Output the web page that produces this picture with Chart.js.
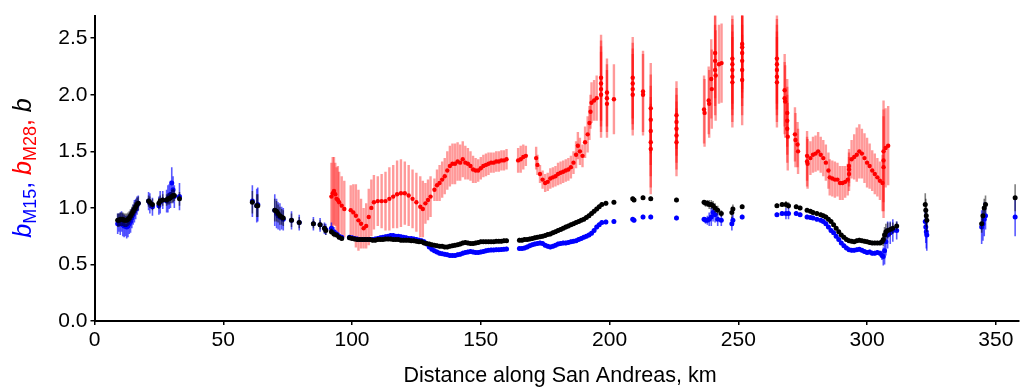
<!DOCTYPE html>
<html><head><meta charset="utf-8">
<style>html,body{margin:0;padding:0;background:#fff;}canvas{display:block;}</style>
<script src="https://cdn.jsdelivr.net/npm/chart.js@4.4.0/dist/chart.umd.min.js"></script>
</head><body>
<canvas id="c" width="1023" height="389"></canvas>
<script>
// ---------- DATA ----------
const xTicks = [0, 50, 100, 150, 200, 250, 300, 350];
const yTicks = [0, 0.5, 1.0, 1.5, 2.0, 2.5];

// positions shared by b and bM15 (km)
const kmBB = [
 9,9.5,10,10.5,11,11.5,12,12.5,13,13.5,14,14.5,15,15.5,16,16.5,17,
 21,21.5,22.5,25,25.5,26.5,28,28.5,29,29.5,30,30.5,31,33,
 61.3,63,63.4,70,70.7,71.3,72,72.7,73.3,76.5,79.5,85,87.6,89.3,89.8,
 92,93,94,95,96,
 99,100,101,102,103,104,105,106,107,108,
 109,110,111,112,113,114,115,116,117,118,
 119,120,121,122,123,124,125,126,127,128,
 129,130,131,132,133,134,135,136,137,138,
 139,140,141,142,143,144,145,146,147,148,
 149,150,151,152,153,154,155,156,157,158,
 159,160,
 165,166,167,168,169,170,171,172,173,174,
 175,176,177,178,179,180,181,182,183,184,
 185,186,187,188,189,190,191,192,193,194,
 195,196,197,198.6,201.7,209,209.5,213,216,
 226,236.7,237.3,238,238.7,239.5,240.2,241,242,243.4,247.5,247.9,251.5,
 265,267,268.5,269.5,272.5,274,276.7,278,279,280.5,282,
 283,284,285,286,287,288,289,290,291,292,
 293,294,295,296,297,298,299,300,301,302,
 303,304,305,
 305.8,306.3,306.8,307.3,308,309,310,311.5,
 322.6,322.8,323.0,323.2,344.5,345,345.5,346,357.5
];
// b (black)
const bVals = [
 0.89,0.89,0.90,0.90,0.90,0.89,0.89,0.89,0.90,0.91,0.93,0.95,0.97,0.99,1.01,1.03,1.04,
 1.06,1.05,1.03,1.04,1.06,1.07,1.07,1.08,1.08,1.09,1.10,1.11,1.11,1.08,
 1.05,1.02,1.02,0.98,0.97,0.95,0.93,0.92,0.91,0.89,0.87,0.86,0.85,0.82,0.80,
 0.79,0.77,0.76,0.74,0.73,
 0.735,0.73,0.725,0.72,0.72,0.72,0.72,0.72,0.72,0.715,
 0.715,0.72,0.72,0.72,0.725,0.725,0.725,0.72,0.72,0.72,
 0.715,0.715,0.715,0.715,0.71,0.71,0.705,0.70,0.70,0.69,
 0.685,0.68,0.675,0.67,0.665,0.66,0.66,0.655,0.655,0.66,
 0.665,0.67,0.675,0.68,0.69,0.695,0.69,0.685,0.685,0.69,
 0.695,0.70,0.70,0.70,0.70,0.70,0.70,0.705,0.705,0.705,
 0.71,0.71,
 0.715,0.715,0.72,0.72,0.725,0.73,0.735,0.74,0.745,0.75,
 0.755,0.765,0.77,0.78,0.79,0.80,0.81,0.82,0.83,0.84,
 0.85,0.86,0.87,0.88,0.89,0.90,0.915,0.93,0.95,0.97,
 0.99,1.01,1.03,1.04,1.05,1.08,1.07,1.09,1.08,
 1.07,1.05,1.04,1.04,1.03,1.03,1.02,1.00,0.98,0.95,0.96,0.99,1.01,
 1.02,1.03,1.03,1.02,1.01,1.00,0.98,0.97,0.96,0.95,0.94,
 0.93,0.92,0.90,0.88,0.85,0.82,0.79,0.76,0.74,0.72,
 0.71,0.705,0.70,0.71,0.715,0.71,0.705,0.70,0.695,0.69,
 0.69,0.69,0.69,
 0.70,0.72,0.76,0.79,0.80,0.81,0.82,0.84,
 1.03,0.98,0.93,0.89,0.86,0.93,1.00,1.03,1.09
];
const bErr = [
 0.06,0.06,0.06,0.06,0.06,0.06,0.06,0.06,0.06,0.06,0.06,0.06,0.06,0.06,0.06,0.06,0.06,
 0.05,0.05,0.05,0.05,0.05,0.05,0.05,0.05,0.05,0.05,0.06,0.06,0.05,0.06,
 0.10,0.10,0.10,0.10,0.09,0.08,0.08,0.07,0.07,0.06,0.05,0.04,0.04,0.04,0.04,
 0.03,0.03,0.02,0.02,0.02,
 0.02,0.02,0.02,0.02,0.02,0.02,0.02,0.02,0.02,0.02,
 0.02,0.02,0.02,0.02,0.02,0.02,0.02,0.02,0.02,0.02,
 0.02,0.02,0.02,0.02,0.02,0.02,0.02,0.02,0.02,0.02,
 0.02,0.02,0.02,0.02,0.02,0.02,0.02,0.02,0.02,0.02,
 0.02,0.02,0.02,0.02,0.02,0.02,0.02,0.02,0.02,0.02,
 0.02,0.02,0.02,0.02,0.02,0.02,0.02,0.02,0.02,0.02,
 0.02,0.02,
 0.02,0.02,0.02,0.02,0.02,0.02,0.02,0.02,0.02,0.02,
 0.02,0.02,0.02,0.02,0.02,0.02,0.02,0.02,0.02,0.02,
 0.02,0.02,0.02,0.02,0.02,0.02,0.02,0.02,0.02,0.02,
 0.02,0.02,0.02,0.02,0.02,0.02,0.02,0.02,0.02,
 0.02,0.02,0.03,0.03,0.04,0.04,0.04,0.04,0.04,0.03,0.05,0.04,0.02,
 0.02,0.02,0.03,0.03,0.02,0.02,0.02,0.02,0.02,0.02,0.02,
 0.02,0.02,0.02,0.02,0.02,0.02,0.02,0.02,0.02,0.02,
 0.02,0.02,0.02,0.02,0.02,0.02,0.02,0.02,0.02,0.02,
 0.02,0.02,0.02,
 0.03,0.06,0.07,0.07,0.07,0.06,0.05,0.04,
 0.10,0.10,0.10,0.10,0.08,0.08,0.08,0.08,0.12
];
// bM15 (blue)
const bM15Vals = [
 0.86,0.87,0.86,0.88,0.85,0.84,0.84,0.83,0.84,0.86,0.88,0.91,0.94,0.97,0.99,1.02,1.04,
 1.06,1.04,1.01,1.02,1.05,1.07,1.06,1.08,1.10,1.12,1.22,1.16,1.10,1.10,
 1.06,1.02,1.03,0.98,0.95,0.93,0.92,0.91,0.90,0.89,0.87,0.86,0.85,0.82,0.81,
 0.82,0.79,0.77,0.75,0.74,
 0.74,0.735,0.73,0.725,0.72,0.72,0.72,0.72,0.72,0.72,
 0.725,0.73,0.735,0.74,0.745,0.75,0.755,0.755,0.75,0.75,
 0.745,0.74,0.735,0.73,0.73,0.725,0.72,0.715,0.71,0.70,
 0.68,0.655,0.635,0.62,0.61,0.60,0.595,0.59,0.585,0.58,
 0.578,0.578,0.585,0.59,0.60,0.605,0.61,0.615,0.61,0.605,
 0.605,0.61,0.615,0.62,0.625,0.627,0.627,0.63,0.63,0.632,
 0.635,0.636,
 0.64,0.64,0.645,0.655,0.665,0.675,0.68,0.685,0.69,0.685,
 0.67,0.66,0.655,0.66,0.67,0.68,0.685,0.69,0.69,0.695,
 0.70,0.705,0.71,0.72,0.73,0.74,0.75,0.76,0.775,0.80,
 0.83,0.85,0.87,0.875,0.88,0.90,0.89,0.92,0.92,
 0.91,0.90,0.89,0.89,0.90,0.92,0.96,0.94,0.90,0.89,0.86,0.89,0.92,
 0.94,0.95,0.95,0.95,0.95,0.94,0.92,0.915,0.91,0.90,0.89,
 0.88,0.86,0.83,0.80,0.78,0.75,0.72,0.69,0.665,0.645,
 0.63,0.625,0.625,0.63,0.635,0.625,0.615,0.605,0.61,0.60,
 0.60,0.605,0.60,
 0.58,0.57,0.62,0.70,0.76,0.78,0.80,0.80,
 0.88,0.83,0.79,0.76,0.83,0.86,0.90,0.93,0.92
];
const bM15Err = [
 0.09,0.08,0.10,0.09,0.10,0.10,0.09,0.10,0.10,0.09,0.10,0.09,0.09,0.10,0.09,0.08,0.07,
 0.08,0.09,0.08,0.08,0.10,0.08,0.10,0.12,0.11,0.12,0.14,0.12,0.10,0.12,
 0.14,0.15,0.15,0.14,0.13,0.12,0.12,0.10,0.10,0.08,0.07,0.06,0.06,0.05,0.05,
 0.05,0.04,0.03,0.03,0.02,
 0.02,0.02,0.02,0.02,0.02,0.02,0.02,0.02,0.02,0.02,
 0.02,0.02,0.02,0.02,0.02,0.02,0.02,0.02,0.02,0.02,
 0.02,0.02,0.02,0.02,0.02,0.02,0.02,0.02,0.02,0.02,
 0.02,0.02,0.02,0.02,0.02,0.02,0.02,0.02,0.02,0.02,
 0.02,0.02,0.02,0.02,0.02,0.02,0.02,0.02,0.02,0.02,
 0.02,0.02,0.02,0.02,0.02,0.02,0.02,0.02,0.02,0.02,
 0.02,0.02,
 0.02,0.02,0.02,0.02,0.02,0.02,0.02,0.02,0.02,0.02,
 0.02,0.02,0.02,0.02,0.02,0.02,0.02,0.02,0.02,0.02,
 0.02,0.02,0.02,0.02,0.02,0.02,0.02,0.02,0.02,0.02,
 0.02,0.02,0.02,0.02,0.02,0.02,0.02,0.02,0.02,
 0.02,0.02,0.03,0.04,0.06,0.08,0.08,0.07,0.06,0.05,0.06,0.05,0.02,
 0.02,0.02,0.05,0.05,0.02,0.02,0.02,0.02,0.02,0.02,0.02,
 0.02,0.02,0.02,0.02,0.02,0.02,0.02,0.02,0.02,0.02,
 0.02,0.02,0.02,0.02,0.02,0.02,0.02,0.02,0.02,0.02,
 0.02,0.02,0.02,
 0.04,0.08,0.12,0.12,0.12,0.10,0.10,0.08,
 0.12,0.14,0.15,0.14,0.15,0.15,0.15,0.12,0.17
];
// bM28 (red)
const kmR = [
 92.0,92.5,93.0,93.5,94.0,94.5,95.0,96.0,97.0,99.5,
 100.5,101.5,102.5,103.5,104.5,105.5,106.5,107.5,108.5,110.0,
 111.5,113.0,114.5,116.0,117.5,119.0,120.5,122.0,123.5,125.0,
 126.5,127.5,128.5,129.5,130.5,132,133,134,135,136,
 137,138,139,140,141,142,143,144,145,146,
 147,148,149,150,151,152,153,154,155,156,
 157,158,159,160,164.5,165.5,166.5,167.5,171.5,172,
 173,174,175,176,177,178,179,180,181,182,
 183,184,185,186,187,187.7,188.5,189.5,190.5,191.5,
 192.2,192.6,193,194,195,196.7,196.7,196.7,196.7,199,
 199,199,201.7,209,209,209,209,213,213,216,
 216,216,216,216,226,226,226,226,226,236.7,
 236.9,238.5,238.7,239.5,239.7,241,241,241,241.2,242.5,
 243.5,247.7,247.7,247.7,247.7,247.7,251.5,251.5,251.5,251.5,
 251.5,251.5,265,265,265,265,265,268,268,268.2,
 269,269,269,269.2,272,272.2,273,273.2,276.7,276.7,
 276.9,278,279,280,281,282,283,284,285,285.5,
 286.5,287.5,288.5,289.5,290.5,291.5,292.5,293,293,293,
 294,295,296,297,298,299,300,301,302,303,
 304,305,306,306.4,306.4,306.4,307.2,308.2
];
const bM28Vals = [
 1.10,1.13,1.15,1.12,1.08,1.07,1.05,1.02,0.99,0.98,
 0.96,0.93,0.89,0.86,0.82,0.84,0.92,1.00,1.05,1.06,
 1.06,1.06,1.08,1.10,1.12,1.13,1.13,1.11,1.08,1.05,
 1.01,0.99,1.04,1.07,1.10,1.16,1.20,1.22,1.25,1.28,
 1.33,1.37,1.39,1.39,1.41,1.40,1.43,1.40,1.39,1.37,
 1.34,1.33,1.33,1.35,1.37,1.38,1.39,1.40,1.40,1.41,
 1.41,1.42,1.42,1.43,1.42,1.43,1.45,1.46,1.44,1.38,
 1.30,1.25,1.22,1.23,1.26,1.27,1.28,1.30,1.31,1.32,
 1.33,1.34,1.36,1.40,1.47,1.55,1.50,1.46,1.58,1.65,
 1.75,1.85,1.93,1.95,1.97,2.15,2.10,2.05,2.00,2.02,
 1.97,1.92,1.96,2.15,2.10,2.05,2.00,2.03,2.00,1.88,
 1.78,1.68,1.58,1.52,1.82,1.76,1.70,1.64,1.58,1.87,
 1.84,1.95,1.92,2.14,2.05,2.37,2.30,2.22,2.17,2.27,
 2.28,2.32,2.27,2.22,2.16,2.11,2.45,2.42,2.37,2.30,
 2.22,2.13,2.32,2.27,2.22,2.16,2.11,2.04,1.97,1.94,
 1.84,1.77,1.70,1.63,1.65,1.60,1.56,1.50,1.46,1.41,
 1.39,1.44,1.47,1.48,1.50,1.47,1.44,1.40,1.33,1.27,
 1.26,1.25,1.25,1.22,1.22,1.23,1.25,1.30,1.34,1.37,
 1.43,1.45,1.47,1.50,1.48,1.44,1.40,1.37,1.33,1.30,
 1.27,1.24,1.22,1.36,1.42,1.50,1.53,1.55
];
const bM28Err = [
 0.30,0.32,0.30,0.28,0.28,0.30,0.27,0.26,0.25,0.22,
 0.25,0.28,0.27,0.22,0.18,0.20,0.25,0.25,0.24,0.22,
 0.24,0.26,0.28,0.28,0.30,0.30,0.28,0.27,0.26,0.26,
 0.27,0.25,0.18,0.18,0.18,0.10,0.14,0.16,0.16,0.16,
 0.17,0.18,0.18,0.18,0.17,0.16,0.16,0.15,0.14,0.13,
 0.12,0.11,0.10,0.10,0.10,0.10,0.10,0.09,0.09,0.09,
 0.09,0.09,0.09,0.09,0.11,0.12,0.11,0.09,0.10,0.09,
 0.08,0.08,0.08,0.08,0.09,0.09,0.09,0.10,0.10,0.10,
 0.10,0.10,0.10,0.10,0.12,0.12,0.12,0.10,0.14,0.16,
 0.15,0.15,0.18,0.18,0.20,0.38,0.38,0.38,0.38,0.30,
 0.30,0.30,0.31,0.36,0.36,0.36,0.36,0.36,0.36,0.40,
 0.40,0.40,0.40,0.40,0.30,0.30,0.30,0.30,0.30,0.30,
 0.30,0.30,0.30,0.35,0.35,0.40,0.40,0.40,0.40,0.35,
 0.35,0.40,0.40,0.40,0.40,0.40,0.40,0.40,0.40,0.40,
 0.40,0.40,0.40,0.40,0.40,0.40,0.40,0.32,0.32,0.32,
 0.30,0.30,0.30,0.30,0.24,0.24,0.20,0.20,0.22,0.22,
 0.22,0.15,0.16,0.16,0.17,0.16,0.16,0.16,0.16,0.16,
 0.16,0.16,0.15,0.15,0.15,0.14,0.14,0.15,0.15,0.15,
 0.17,0.20,0.24,0.24,0.22,0.22,0.22,0.20,0.18,0.18,
 0.17,0.17,0.25,0.45,0.45,0.45,0.35,0.35
];

// ---------- CHART ----------
const FONT = '"Liberation Sans", Arial, Helvetica, sans-serif';
function pts(xs, ys){ return xs.map((x, i) => ({x: x, y: ys[i]})); }

const errorBars = {
  id: 'errorBars',
  beforeDatasetDraw(chart, args){
    const ds = chart.data.datasets[args.index];
    if (!ds.errs) return;
    const ctx = chart.ctx, a = chart.chartArea, xs = chart.scales.x, ys = chart.scales.y;
    ctx.save();
    ctx.beginPath(); ctx.rect(a.left, a.top, a.right - a.left, a.bottom - a.top); ctx.clip();
    ctx.strokeStyle = ds.errColor; ctx.lineWidth = ds.errWidth; ctx.lineCap = 'butt';
    ds.data.forEach((p, i) => {
      const e = ds.errs[i]; if (!e) return;
      const px = xs.getPixelForValue(p.x);
      ctx.beginPath();
      ctx.moveTo(px, ys.getPixelForValue(p.y + e));
      ctx.lineTo(px, ys.getPixelForValue(p.y - e));
      ctx.stroke();
    });
    ctx.restore();
  }
};

const titles = {
  id: 'titles',
  afterDraw(chart){
    const ctx = chart.ctx;
    ctx.save();
    ctx.fillStyle = '#000';
    ctx.font = '21.5px ' + FONT;
    ctx.textAlign = 'center'; ctx.textBaseline = 'middle';
    ctx.fillText('Distance along San Andreas, km', 560, 376);
    const parts = [
      {t:'b', c:'#0000ff', f:'italic 25px ' + FONT, dy:0},
      {t:'M15', c:'#0000ff', f:'18px ' + FONT, dy:5},
      {t:', ', c:'#0000ff', f:'25px ' + FONT, dy:0},
      {t:'b', c:'#ff0000', f:'italic 25px ' + FONT, dy:0},
      {t:'M28', c:'#ff0000', f:'18px ' + FONT, dy:5},
      {t:', ', c:'#ff0000', f:'25px ' + FONT, dy:0},
      {t:'b', c:'#000000', f:'italic 25px ' + FONT, dy:0}
    ];
    let total = 0;
    parts.forEach(p => { ctx.font = p.f; p.w = ctx.measureText(p.t).width; total += p.w; });
    ctx.translate(31, 168);
    ctx.rotate(-Math.PI / 2);
    ctx.textAlign = 'left'; ctx.textBaseline = 'alphabetic';
    let xx = -total / 2;
    parts.forEach(p => { ctx.font = p.f; ctx.fillStyle = p.c; ctx.fillText(p.t, xx, p.dy); xx += p.w; });
    ctx.restore();
  }
};

new Chart(document.getElementById('c'), {
  type: 'scatter',
  data: {
    datasets: [
      { label: 'b', data: pts(kmBB, bVals), errs: bErr, errColor: 'rgba(0,0,0,0.5)', errWidth: 1.6,
        backgroundColor: '#000000', pointRadius: 2.5, pointBorderWidth: 0, order: 1 },
      { label: 'bM15', data: pts(kmBB, bM15Vals), errs: bM15Err, errColor: 'rgba(0,0,255,0.65)', errWidth: 1.6,
        backgroundColor: '#0000ff', pointRadius: 2.5, pointBorderWidth: 0, order: 2 },
      { label: 'bM28', data: pts(kmR, bM28Vals), errs: bM28Err, errColor: 'rgba(255,0,0,0.4)', errWidth: 2.4,
        backgroundColor: '#ff0000', pointRadius: 2.2, pointBorderWidth: 0, order: 3 }
    ]
  },
  options: {
    responsive: false, animation: false, devicePixelRatio: 1,
    layout: { padding: { left: 0, right: 2, top: 9, bottom: 0 } },
    plugins: { legend: { display: false }, tooltip: { enabled: false } },
    scales: {
      x: {
        type: 'linear', min: 0, max: 359,
        afterBuildTicks: s => { s.ticks = xTicks.map(v => ({ value: v })); },
        afterFit: s => { s.height = 68; },
        ticks: { color: '#000', font: { family: FONT, size: 21 }, padding: 3, maxRotation: 0 },
        grid: { display: true, drawOnChartArea: false, drawTicks: true, tickLength: 4, color: '#000', lineWidth: 1.5 },
        border: { display: true, color: '#000', width: 2 }
      },
      y: {
        type: 'linear', min: 0, max: 2.7,
        afterBuildTicks: s => { s.ticks = yTicks.map(v => ({ value: v })); },
        afterFit: s => { s.width = 94.5; },
        ticks: { color: '#000', font: { family: FONT, size: 21 }, padding: 3, callback: v => v.toFixed(1) },
        grid: { display: true, drawOnChartArea: false, drawTicks: true, tickLength: 4, color: '#000', lineWidth: 1.5 },
        border: { display: true, color: '#000', width: 2 }
      }
    }
  },
  plugins: [errorBars, titles]
});
</script>
</body></html>
